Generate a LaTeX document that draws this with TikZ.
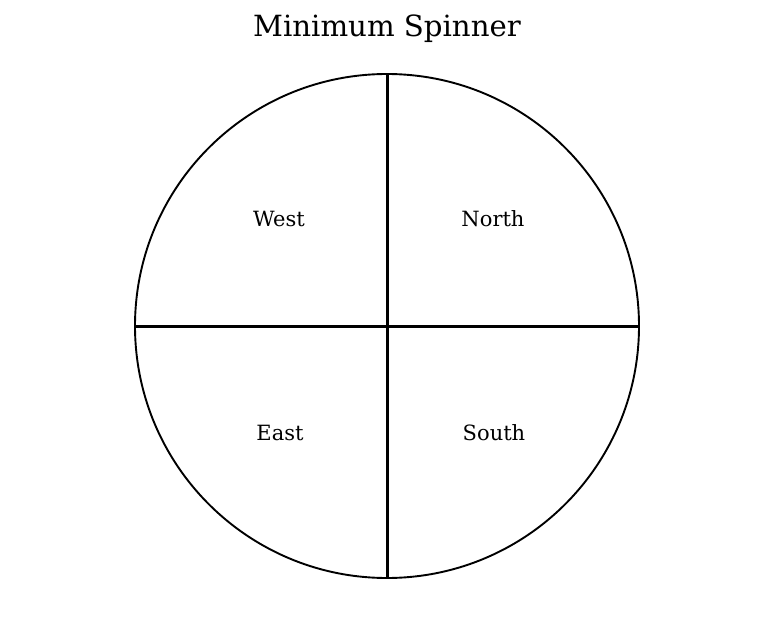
\documentclass[tikz,border=0pt]{standalone}
\usepackage{fontspec}
\setmainfont{DejaVu Serif}
\begin{document}
\begin{tikzpicture}[x=1pt,y=-1pt,
  rim/.style={line width=1.9pt},
  divider/.style={line width=3pt},
  sector/.style={font=\fontsize{21}{24}\selectfont, inner sep=0pt},
  heading/.style={font=\fontsize{29.2}{33}\selectfont, inner sep=0pt}]
\useasboundingbox (0,0) rectangle (774,618);
\coordinate (c) at (387,326);
\coordinate (top) at (387,74);
\coordinate (bottom) at (387,578);
\coordinate (left) at (135,326);
\coordinate (right) at (639,326);
\draw[rim] (c) circle[radius=252];
\draw[divider] (top) -- (bottom);
\draw[divider] (left) -- (right);
\node[heading] (title) at (387,29) {Minimum Spinner};
\node[sector] (west) at (279,219) {West};
\node[sector] (north) at (493,219) {North};
\node[sector] (east) at (280,433) {East};
\node[sector] (south) at (494,433) {South};
\end{tikzpicture}
\end{document}
